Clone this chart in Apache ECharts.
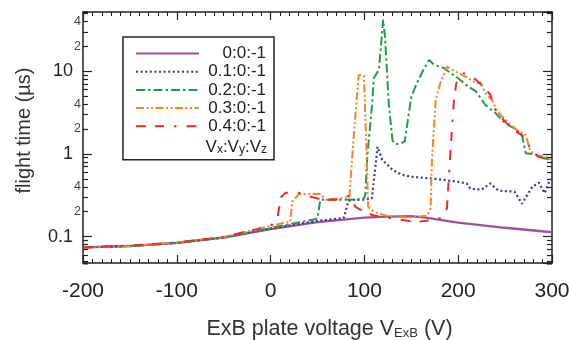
<!DOCTYPE html>
<html><head><meta charset="utf-8">
<script src="https://cdn.jsdelivr.net/npm/echarts@6/dist/echarts.min.js"></script>
<style>html,body{margin:0;padding:0;background:#fff}#c{width:569px;height:340px}</style>
</head><body><div id="c"></div>
<script>
// ---- data ----
const seriesNames = ['0:0:-1', '0.1:0:-1', '0.2:0:-1', '0.3:0:-1', '0.4:0:-1'];
const xTickValues = [-200, -100, 0, 100, 200, 300];
const yMajorLabels = [0.1, 1, 10];
const yMinorLabelDigits = [2, 4];

// 0:0:-1
const volt0 = [-200, -150, -100, -50, 0, 50, 100, 125, 150, 165, 200, 250, 300];
const time0 = [0.074, 0.077, 0.084, 0.097, 0.123, 0.150, 0.170, 0.175, 0.177, 0.170, 0.148, 0.128, 0.113];
// 0.1:0:-1
const volt1 = [-200, -150, -100, -50, 0, 50, 78, 83, 90, 100, 108, 111, 114, 119, 130, 140, 150, 175, 200, 209, 213, 225, 234, 243, 260, 268, 279, 286, 292, 297, 300];
const time1 = [0.074, 0.077, 0.084, 0.098, 0.125, 0.155, 0.168, 0.27, 0.28, 0.28, 0.29, 0.59, 1.22, 0.85, 0.64, 0.56, 0.53, 0.50, 0.46, 0.44, 0.38, 0.37, 0.44, 0.36, 0.35, 0.25, 0.40, 0.45, 0.335, 0.46, 0.50];
// 0.2:0:-1
const volt2 = [-200, -150, -100, -50, 0, 25, 45, 50, 53, 60, 80, 99, 101, 103, 108, 110, 115.5, 120, 122, 126, 130, 133, 137, 143, 150, 156, 163, 169, 174, 178, 185, 192, 199, 211, 219, 229, 240, 250, 261, 268, 272, 282, 290, 296, 300];
const time2 = [0.074, 0.077, 0.084, 0.098, 0.127, 0.145, 0.16, 0.167, 0.28, 0.28, 0.28, 0.283, 0.32, 0.93, 3.7, 8.3, 10.4, 42, 26, 4.0, 1.45, 1.33, 1.32, 1.41, 4.9, 7.2, 10.4, 13.7, 12.0, 11.6, 10.9, 9.5, 8.4, 6.5, 5.7, 3.9, 3.1, 2.35, 1.99, 1.7, 1.02, 0.99, 0.89, 0.86, 0.84];
// 0.3:0:-1
const volt3 = [-200, -150, -100, -50, 0, 12, 21, 23, 30, 52, 59, 84, 87, 92, 94, 99.5, 101.5, 102.5, 104, 110, 126, 150, 167, 170.6, 172, 176, 181, 188, 197, 208, 219, 224, 229, 236, 241.5, 250.5, 261, 272, 277, 286, 296, 300];
const time3 = [0.074, 0.077, 0.085, 0.099, 0.135, 0.145, 0.151, 0.265, 0.325, 0.33, 0.28, 0.30, 0.93, 5.0, 9.0, 8.8, 8.5, 0.9, 0.23, 0.2, 0.175, 0.17, 0.18, 0.22, 0.85, 4.5, 7.2, 11.4, 9.9, 8.6, 7.2, 7.3, 5.4, 4.5, 3.25, 2.6, 2.0, 1.7, 1.07, 0.95, 0.91, 0.82];
// 0.4:0:-1
const volt4 = [-200, -150, -100, -50, 0, 7, 11, 16, 30, 40, 55, 70, 82, 86, 90, 100, 110, 125, 155, 175, 183, 188, 192, 195.4, 198, 206, 211, 219, 224, 234.5, 238, 243, 257, 272, 277, 285, 300];
const time4 = [0.074, 0.078, 0.085, 0.099, 0.135, 0.16, 0.3, 0.34, 0.34, 0.31, 0.28, 0.28, 0.31, 0.3, 0.23, 0.2, 0.18, 0.17, 0.15, 0.16, 0.17, 0.22, 1.2, 4.3, 7.2, 9.5, 9.0, 7.9, 6.9, 5.2, 3.7, 2.96, 2.05, 1.55, 1.12, 0.93, 0.85];

const volts = [volt0, volt1, volt2, volt3, volt4];
const times = [time0, time1, time2, time3, time4];

// ---- styling ----
const FONT = '"Liberation Sans", Arial, sans-serif';
const INK = '#222';
const X_MIN = -200, X_MAX = 300;
const Y_MIN = 0.048, Y_MAX = 52;
const colors = ['#a0509e', '#3535a5', '#1c9e48', '#f58426', '#ec2a2a'];
const dashes = ['solid', [2, 2.6], [9, 3, 2.5, 3], [8, 2.5, 2, 2.5, 2, 2.5], [10, 9, 9, 10, 2.5, 10]];
const widths = [2.3, 2.2, 2, 2, 2];

const chart = echarts.init(document.getElementById('c'), null, {renderer: 'canvas'});

function pairs(xs, ys) { return xs.map((x, i) => [x, ys[i]]); }

const xAxisBase = {
  type: 'value', min: X_MIN, max: X_MAX, interval: 100,
  axisLine: {show: true, onZero: false, lineStyle: {color: INK, width: 1.5}},
  axisTick: {show: true, inside: true, length: 8, lineStyle: {color: INK, width: 1.2}},
  minorTick: {show: true, splitNumber: 10, length: 4, lineStyle: {color: INK, width: 1}},
  splitLine: {show: false}
};

const xAxes = [
  Object.assign({}, xAxisBase, {
    position: 'bottom',
    axisLabel: {show: true, fontSize: 21, fontFamily: FONT, color: INK, margin: 18,
      customValues: xTickValues},
    name: 'ExB plate voltage V{s|ExB} (V)',
    nameLocation: 'middle', nameGap: 55,
    nameTextStyle: {fontSize: 21.5, fontFamily: FONT, color: '#333', padding: [0, 0, 0, 24],
      rich: {s: {fontSize: 13, fontFamily: FONT, color: '#333', verticalAlign: 'bottom', padding: [7, 0, 0, 0]}}}
  }),
  Object.assign({}, xAxisBase, {position: 'top', axisLabel: {show: false}})
];

const yAxes = [];
['left', 'right'].forEach(function (side) {
  for (let k = 1; k <= 9; k++) {
    const isMain = k === 1;
    const labelled = side === 'left' && (isMain || yMinorLabelDigits.indexOf(k) >= 0);
    yAxes.push({
      type: 'log', logBase: 10, position: side,
      min: Y_MIN / k, max: Y_MAX / k,
      axisLine: {show: isMain, onZero: false, lineStyle: {color: INK, width: 1.5}},
      axisTick: {show: true, inside: true, length: isMain ? 9 : 5, lineStyle: {color: INK, width: 1.2}},
      splitLine: {show: false},
      minorTick: {show: false},
      axisLabel: {
        show: labelled,
        showMinLabel: false, showMaxLabel: false,
        fontFamily: FONT,
        fontSize: isMain ? 18 : 12.5,
        color: isMain ? INK : '#444',
        margin: isMain ? 10 : 2,
        formatter: isMain ? function (v) {
          const hit = yMajorLabels.find(m => Math.abs(m - v) / m < 1e-6);
          return hit !== undefined ? String(hit) : '';
        } : function () { return String(k); }
      },
      name: (side === 'left' && isMain) ? 'flight time (µs)' : '',
      nameLocation: 'middle', nameGap: 49, nameRotate: 90,
      nameTextStyle: {fontSize: 20, fontFamily: FONT, color: '#333', padding: [0, 0, 0, 14]}
    });
  }
});

const series = seriesNames.map(function (name, i) {
  return {
    name: name, type: 'line', xAxisIndex: 0, yAxisIndex: 0,
    data: pairs(volts[i], times[i]),
    symbol: 'none', showSymbol: false, smooth: false,
    lineStyle: {color: colors[i], width: widths[i], type: dashes[i]},
    itemStyle: {color: colors[i]},
    emphasis: {disabled: true},
    z: 2 + i
  };
});

chart.setOption({
  animation: false,
  backgroundColor: '#fff',
  grid: {left: 83, right: 17, top: 12, bottom: 77, containLabel: false, outerBoundsMode: 'none'},
  xAxis: xAxes,
  yAxis: yAxes,
  legend: {
    show: true, orient: 'vertical', left: 123, top: 37,
    data: seriesNames,
    itemWidth: 63, itemHeight: 14, itemGap: 1.2,
    padding: [8, 8, 25, 12],
    borderColor: INK, borderWidth: 1.5, backgroundColor: '#fff',
    selectedMode: false,
    itemStyle: {opacity: 0},
    formatter: function (n) { return '{a|' + n + '}'; },
    textStyle: {fontFamily: FONT, fontSize: 17, color: INK,
      rich: {a: {width: 62, align: 'right', fontFamily: FONT, fontSize: 17, color: INK}}}
  },
  graphic: [{
    type: 'text', right: 302, top: 139, z: 100,
    style: {
      text: '{v|V}{s|x}{c|:}{v|V}{s|y}{c|:}{v|V}{s|z}',
      rich: {
        v: {fontSize: 17, fontFamily: FONT, fill: INK, color: INK},
        s: {fontSize: 12, fontFamily: FONT, fill: INK, color: INK, verticalAlign: 'bottom', padding: [5, 0, 0, 0]},
        c: {fontSize: 17, fontFamily: FONT, fill: INK, color: INK}
      }
    }
  }],
  series: series
});
</script></body></html>
